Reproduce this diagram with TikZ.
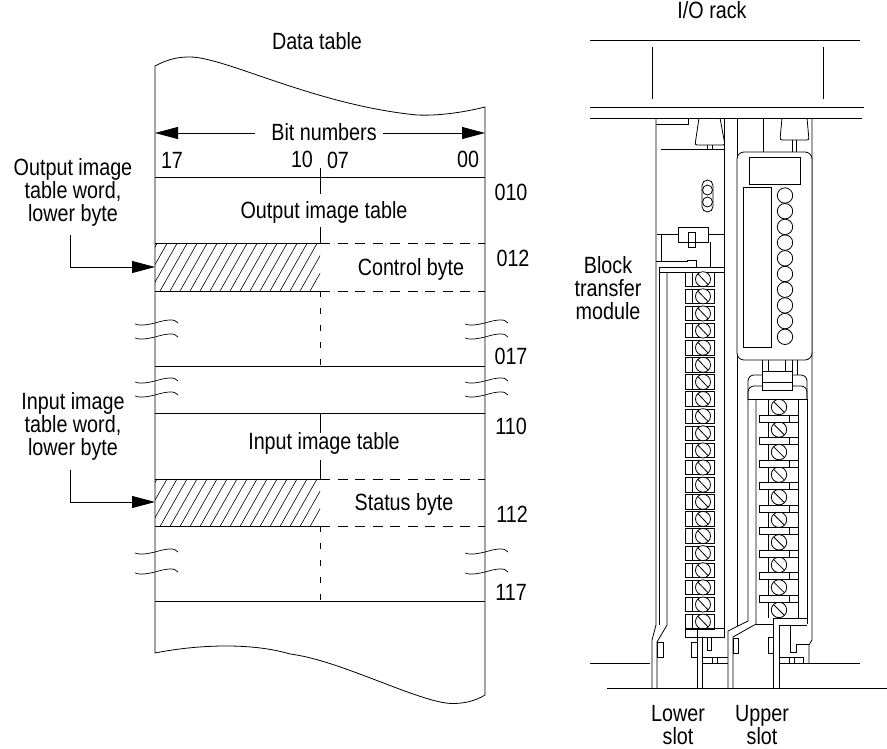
\documentclass[tikz,border=0pt]{standalone}
\usepackage{fontspec}
\setmainfont[FakeStretch=0.84]{Liberation Sans}
\usetikzlibrary{arrows.meta}
\begin{document}
\begin{tikzpicture}[x=1pt,y=-1pt,line width=0.8pt,
    every node/.style={font=\fontsize{23.5}{23}\selectfont,inner sep=0pt,align=center},
    pointer/.style={-{Triangle[length=23pt,width=12pt]}},
    dashh/.style={dash pattern=on 10pt off 7.5pt},
    dashv/.style={dash pattern=on 6pt off 11pt},
    squiggle/.style={line width=0.7pt}]
  \useasboundingbox (0,0) rectangle (887,748);
  % data table outline
  \draw (155,66) .. controls (170,58) and (180,57) .. (190,57)
    .. controls (225,57) and (315,105) .. (417,115)
    .. controls (440,116) and (465,112) .. (485,107) -- (485,695)
    .. controls (475,701) and (465,703.5) .. (452,703.5)
    .. controls (420,703) and (340,660) .. (290,654)
    .. controls (250,642) and (195,645) .. (155,653) -- cycle;
  \node (datatitle) at (317,41) {Data table};
  \coordinate (bitleft) at (155,133);
  \coordinate (bitright) at (485,133);
  \node[inner xsep=8pt,inner ysep=2pt] (bitnum) at (324,132) {Bit numbers};
  \draw[pointer] (bitnum) ++(-69,1) -- (bitleft);
  \draw[pointer] (bitnum) ++(59,1) -- (bitright);
  \node (bitseventeen) at (172,160) {17};
  \node (bitten) at (302,159) {10};
  \node (bitseven) at (338,160) {07};
  \node (bitzero) at (468,159) {00};
  % rows
  \draw (155,177.5) -- (485,177.5);
  \draw (155,366) -- (485,366);
  \draw (155,413) -- (485,413);
  \draw (155,601) -- (485,601);
  \draw (320,168) -- (320,194);
  \draw (320,227) -- (320,243.5);
  \draw (320,413) -- (320,433);
  \draw (320,460) -- (320,479);
  \draw[dashv] (320,291) -- (320,366);
  \draw[dashv] (320,526) -- (320,601);
  \draw (155,243.5) -- (320,243.5);
  \draw (155,291) -- (320,291);
  \draw (155,479) -- (320,479);
  \draw (155,526) -- (320,526);
  \draw[dashh] (320,243.5) -- (485,243.5);
  \draw[dashh] (320,291) -- (485,291);
  \draw[dashh] (320,479) -- (485,479);
  \draw[dashh] (320,526) -- (485,526);
  % hatching of both lower bytes
  \foreach \hy in {243.5,479} {
    \begin{scope}
      \clip (155,\hy) rectangle (320,\hy+47.5);
      \foreach \hx in {130,140,...,320}
        \draw[line width=0.6pt] (\hx,\hy+47.5) -- (\hx+27,\hy);
    \end{scope}
  }
  \node (outimage) at (324,212) {Output image table};
  \node (inimage) at (324,443) {Input image table};
  \node (ctrlbyte) at (411,269) {Control byte};
  \node (statbyte) at (404,504) {Status byte};
  \node (wtenlabel) at (511,192) {010};
  \node (wtwelvelabel) at (513,258) {012};
  \node (wseventeenlabel) at (511,356) {017};
  \node (inzerolabel) at (511,426) {110};
  \node (intwolabel) at (512,514) {112};
  \node (inseventeenlabel) at (511,592) {117};
  % breaks in the table sides
  \foreach \by in {324,338,382,396,553,573} {
    \draw[squiggle] (135,\by) .. controls (140,\by+2) and (146,\by+1) .. (155,\by-1)
      .. controls (165,\by-4) and (175,\by-6) .. (178,\by-1);
    \draw[squiggle] (465,\by) .. controls (470,\by+2) and (476,\by+1) .. (485,\by-1)
      .. controls (495,\by-4) and (505,\by-6) .. (508,\by-1);
  }
  % word labels and their arrows
  \node (outword) at (73,192) {Output image\\table word,\\lower byte};
  \node (inword) at (73,426) {Input image\\table word,\\lower byte};
  \coordinate (outstart) at (70,235);
  \coordinate (outhit) at (155,267);
  \coordinate (instart) at (70,470);
  \coordinate (inhit) at (155,502);
  \draw[pointer] (outstart) |- (outhit);
  \draw[pointer] (instart) |- (inhit);
  % rack
  \node (racktitle) at (712,10) {I/O rack};
  \draw (590,40) -- (860,40);
  \draw (652,47) -- (652,99);
  \draw (823,47) -- (823,99);
  \draw (590,107) -- (864,107);
  \draw (590,118) -- (862,118);
  \draw (590,663) -- (650,663);
  \draw (809,663) -- (860,663);
  \draw (607,688) -- (887,688);
  \node (blocklabel) at (608,288) {Block\\transfer\\module};
  \node (lowerslot) at (678,725) {Lower\\slot};
  \node (upperslot) at (762,725) {Upper\\slot};
  % lower slot module
  \draw (656,118) -- (656,625) -- (652,640) -- (652,688);
  \draw (667,272) -- (667,625) -- (657,642) -- (657,688);
  \draw (659,267) -- (659,625);
  \draw (724,118) -- (724,637);
  \draw (656,124) -- (688,124) -- (688,118);
  \draw[rounded corners=2pt] (699,118) -- (695,145) -- (725,145) -- (720,118);
  \draw (661,149) -- (725,149);
  \draw (707,145) -- (707,149);
  \draw (712,145) -- (712,149);
  \draw[rounded corners=5.5pt] (702,180) rectangle (713,212);
  \draw (707.5,190) circle [radius=5];
  \draw (707.5,202) circle [radius=5];
  \draw (657,234) -- (678,234) -- (678,227) -- (708,227) -- (708,242) -- (678,242) -- (678,234);
  \draw (708,234) -- (724,234);
  \draw (661,234) -- (661,261);
  \draw (710,242) -- (710,267);
  \draw (688,232) rectangle (695,247);
  \draw (656,261) -- (687,261) -- (687,260) -- (696,260) -- (696,267);
  \draw (659,267) -- (724,267);
  \draw (659,272) -- (724,272);
  \foreach \tn in {0,...,20} {
    \pgfmathsetmacro{\ty}{272+17.12*\tn}
    \draw[fill=white] (685,\ty) rectangle (714,\ty+14.5);
    \draw (692,\ty) -- (692,\ty+14.5);
    \draw[fill=white] (703,\ty+7.2) circle [radius=7.5];
    \draw (698,\ty+2) -- (708,\ty+12.5);
  }
  \draw (685,628) rectangle (724,637);
  \draw (697,628) -- (697,688);
  \draw (702,637) -- (702,688);
  \draw (707,637) -- (707,650) -- (711,650) -- (711,637);
  \draw (691,642) rectangle (697,657);
  \draw (657,642) rectangle (663,657);
  \draw (702,657) -- (728,657);
  \draw (702,663) -- (728,663);
  \draw (712,657) -- (712,663);
  \draw (717,657) -- (717,663);
  % upper slot module
  \draw (737,118) -- (737,626);
  \draw (812,118) -- (812,640) -- (809,645) -- (809,663);
  \draw (763,118) -- (763,152);
  \draw[rounded corners=2pt] (782,118) -- (780,140) -- (809,140) -- (807,118);
  \draw (792,140) -- (792,152);
  \draw (796,140) -- (796,152);
  \draw[rounded corners=7pt,fill=white] (737,152) rectangle (812,360);
  \draw (749,157) rectangle (800,184);
  \draw (743,187) rectangle (771,347);
  \foreach \ln in {0,...,9}
    \draw (785,195.5+15.7*\ln) circle [radius=7.7];
  % latch and cover of the upper terminals
  \draw (762,360) -- (762,390) -- (792,390) -- (792,360);
  \draw (762,371) -- (792,371);
  \draw (762,382) -- (792,382);
  \draw (768,360) -- (768,371);
  \draw (785,360) -- (785,371);
  \draw (797,360) -- (797,375);
  \draw[rounded corners=6pt] (748,400) -- (748,375) -- (762,375);
  \draw[rounded corners=6pt] (792,375) -- (807,375) -- (807,400);
  \draw[rounded corners=6pt] (748,399) -- (748,386) -- (762,386);
  \draw[rounded corners=6pt] (792,386) -- (807,386) -- (807,399);
  \draw (748,399) -- (807,399);
  \draw (748,399) -- (748,621) -- (728,631) -- (728,688);
  \draw (756,399) -- (756,624) -- (733,637) -- (733,688);
  \draw (768,399) -- (768,618);
  \draw (798,399) -- (798,618);
  \draw (807,399) -- (807,624);
  \foreach \sn in {0,...,9} {
    \draw (779,407+22.55*\sn) circle [radius=7.7];
    \draw (774,402+22.55*\sn) -- (784,412+22.55*\sn);
  }
  \foreach \bn in {0,...,8} {
    \draw[fill=white] (759,415+22.5*\bn) rectangle (798,422+22.5*\bn);
    \draw (789,415+22.5*\bn) -- (789,422+22.5*\bn);
  }
  \draw (756,624) -- (773,624);
  \draw (773,688) -- (773,618) -- (807,618);
  \draw (779,688) -- (779,625) -- (807,625);
  \draw (790,625) -- (790,652) -- (796,652) -- (796,644) -- (809,644);
  \draw (733,638) rectangle (738,653);
  \draw (768,637) rectangle (773,653);
  \draw (779,657) -- (803,657) -- (803,663);
  \draw (779,663) -- (809,663);
  \draw (789,657) -- (789,663);
  \draw (794,657) -- (794,663);
\end{tikzpicture}
\end{document}
